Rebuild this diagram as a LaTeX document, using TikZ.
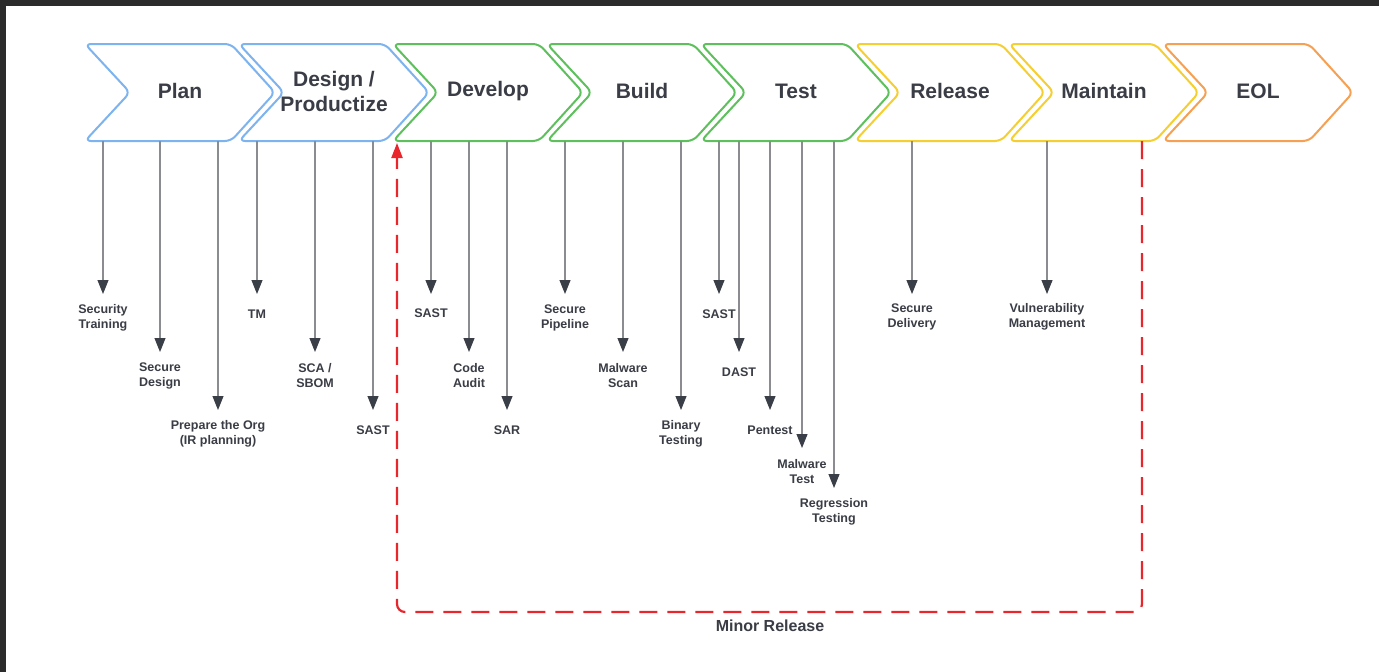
\documentclass[tikz,border=0pt]{standalone}
\usepackage{fontspec}
\setmainfont{Liberation Sans}
\usetikzlibrary{arrows.meta}
\definecolor{frame}{HTML}{2B2B2B}
\definecolor{cblue}{HTML}{7DB3EE}
\definecolor{cgreen}{HTML}{5DC05D}
\definecolor{cyellow}{HTML}{F5CF32}
\definecolor{corange}{HTML}{F5A052}
\definecolor{txt}{HTML}{3A3D45}
\definecolor{stemgray}{HTML}{8A8C90}
\definecolor{tipdark}{HTML}{3A3E47}
\definecolor{loopred}{HTML}{E8262C}
\tikzset{
  chev/.style={line width=2pt, rounded corners=6pt, line join=round},
  ttl/.style={font=\fontsize{21}{25}\selectfont\bfseries, text=txt, align=center, inner sep=0pt},
  lbl/.style={font=\fontsize{12.5}{15}\selectfont\bfseries, text=txt, align=center, inner sep=0pt},
  stemline/.style={draw=stemgray, line width=1.1pt, -{Triangle[length=14pt,width=11pt,color=tipdark]}},
  loopline/.style={draw=loopred, line width=2.2pt, dash pattern=on 18pt off 10pt, rounded corners=8pt,
     -{Triangle[length=15pt,width=11pt,color=loopred]}}
}
\newcommand\chevshape[3]{% x0, color, name
  \draw[chev, draw=#2] (#1,44) -- ({#1+146},44) -- ({#1+190},92.5) -- ({#1+146},141) -- (#1,141) -- ({#1+45},92.5) -- cycle;
  \coordinate (#3) at ({#1+95},91);
}
\newcommand\stemarrow[5]{% name, x, tip y, label offset, text
  \coordinate (#1s) at (#2,141);
  \coordinate (#1e) at (#2,#3);
  \node[lbl] (#1) at (#2,{#3+#4}) {#5};
  \draw[stemline] (#1s) -- (#1e);
}
\begin{document}
\begin{tikzpicture}[x=1pt,y=-1pt]
\useasboundingbox (0,0) rectangle (1379,672);
\fill[frame] (0,0) rectangle (1379,672);
\fill[white] (6,6) rectangle (1379,672);

% chevrons
\chevshape{85}{cblue}{cplan}
\chevshape{239}{cblue}{cdesign}
\chevshape{393}{cgreen}{cdevelop}
\chevshape{547}{cgreen}{cbuild}
\chevshape{701}{cgreen}{ctest}
\chevshape{855}{cyellow}{crelease}
\chevshape{1009}{cyellow}{cmaintain}
\chevshape{1163}{corange}{ceol}

\node[ttl] (tplan) at (cplan) {Plan};
\node[ttl] (tdesign) at (cdesign) {Design /\\Productize};
\node[ttl] (tdevelop) at (cdevelop) {Develop};
\node[ttl] (tbuild) at (cbuild) {Build};
\node[ttl] (ttest) at (ctest) {Test};
\node[ttl] (trelease) at (crelease) {Release};
\node[ttl] (tmaintain) at (cmaintain) {Maintain};
\node[ttl] (teol) at (ceol) {EOL};

% step arrows
\stemarrow{a1}{103}{294}{24}{Security\\Training}
\stemarrow{a2}{160}{352}{24}{Secure\\Design}
\stemarrow{a3}{218}{410}{24}{Prepare the Org\\(IR planning)}
\stemarrow{a4}{257}{294}{20}{TM}
\stemarrow{a5}{315}{352}{24}{SCA /\\SBOM}
\stemarrow{a6}{373}{410}{20}{SAST}
\stemarrow{a7}{431}{294}{19}{SAST}
\stemarrow{a8}{469}{352}{24}{Code\\Audit}
\stemarrow{a9}{507}{410}{20}{SAR}
\stemarrow{a10}{565}{294}{24}{Secure\\Pipeline}
\stemarrow{a11}{623}{352}{24}{Malware\\Scan}
\stemarrow{a12}{681}{410}{24}{Binary\\Testing}
\stemarrow{a13}{719}{294}{20}{SAST}
\stemarrow{a14}{739}{352}{20}{DAST}
\stemarrow{a15}{770}{410}{20}{Pentest}
\stemarrow{a16}{802}{448}{24}{Malware\\Test}
\stemarrow{a17}{834}{488}{24}{Regression\\Testing}
\stemarrow{a18}{912}{294}{23}{Secure\\Delivery}
\stemarrow{a19}{1047}{294}{23}{Vulnerability\\Management}

% minor release loop
\coordinate (ls) at (1142,141);
\coordinate (lc1) at (1142,612);
\coordinate (lc2) at (397,612);
\coordinate (le) at (397,143);
\draw[loopline] (ls) -- (lc1) -- (lc2) -- (le);
\node[font=\fontsize{16}{19}\selectfont\bfseries, text=txt, inner sep=0pt] (minor) at (770,626) {Minor Release};
\end{tikzpicture}
\end{document}
